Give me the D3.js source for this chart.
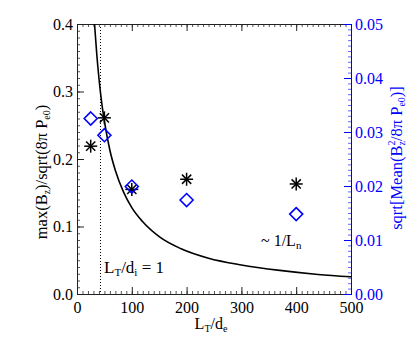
<!DOCTYPE html>
<html>
<head>
<meta charset="utf-8">
<script src="https://cdn.jsdelivr.net/npm/d3@7"></script>
<style>
  body { margin: 0; background: #fff; }
  text { font-family: "Liberation Serif", "DejaVu Serif", serif; }
</style>
</head>
<body>
<div id="container"></div>
<script>
// data
const lengths = [25, 50, 100, 200, 400];              // L_T/d_e
const maxBz = [0.219, 0.261, 0.155, 0.170, 0.163];    // left axis, asterisks
const meanBz = [0.0325, 0.0294, 0.0199, 0.0174, 0.0148]; // right axis, diamonds

// ~1/L_n guide curve
const curveX = [32, 36, 40, 45, 50, 60, 70, 85, 100, 120, 150, 190, 240, 300, 370, 440, 500];
const curveY = [0.400, 0.356, 0.320, 0.284, 0.256, 0.213, 0.183, 0.151, 0.128, 0.107, 0.085, 0.067, 0.053, 0.043, 0.035, 0.029, 0.0256];

const ionLine = 42.85; // L_T/d_i = 1

const xTicks = [0, 100, 200, 300, 400, 500];
const yTicks = [0, 0.1, 0.2, 0.3, 0.4];
const y2Ticks = [0, 0.01, 0.02, 0.03, 0.04, 0.05];

const width = 415, height = 344;
const plot = { left: 77, right: 351, top: 24, bottom: 294 };

const svg = d3.select('#container').append('svg')
    .attr('width', width)
    .attr('height', height);

const xScale = d3.scaleLinear().domain([0, 500]).range([plot.left, plot.right]);
const yScale = d3.scaleLinear().domain([0, 0.4]).range([plot.bottom, plot.top]);
const y2Scale = d3.scaleLinear().domain([0, 0.05]).range([plot.bottom, plot.top]);

const axisCol = '#222';
const blue = '#0000ff';

// bottom axis (ticks inward)
svg.append('g')
    .attr('transform', 'translate(0,' + plot.bottom + ')')
    .call(d3.axisBottom(xScale).tickValues(d3.range(0, 501, 10)).tickSize(-3).tickFormat(''))
    .call(g => g.selectAll('line').attr('stroke', '#555'));
svg.append('g')
    .attr('transform', 'translate(0,' + plot.bottom + ')')
    .call(d3.axisBottom(xScale).tickValues(xTicks).tickSize(-7).tickPadding(8).tickFormat(d3.format('d')))
    .call(g => g.select('.domain').attr('stroke', axisCol))
    .call(g => g.selectAll('line').attr('stroke', axisCol))
    .call(g => g.selectAll('text').attr('font-size', 16).attr('fill', '#000'));

// top axis
svg.append('g')
    .attr('transform', 'translate(0,' + plot.top + ')')
    .call(d3.axisTop(xScale).tickValues(d3.range(0, 501, 10)).tickSize(-3).tickFormat(''))
    .call(g => g.selectAll('line').attr('stroke', '#555'));
svg.append('g')
    .attr('transform', 'translate(0,' + plot.top + ')')
    .call(d3.axisTop(xScale).tickValues(xTicks).tickSize(-7).tickFormat(''))
    .call(g => g.select('.domain').attr('stroke', axisCol))
    .call(g => g.selectAll('line').attr('stroke', axisCol));

// left axis
svg.append('g')
    .attr('transform', 'translate(' + plot.left + ',0)')
    .call(d3.axisLeft(yScale).tickValues(d3.range(0, 0.4001, 0.01)).tickSize(-3).tickFormat(''))
    .call(g => g.selectAll('line').attr('stroke', '#555'));
svg.append('g')
    .attr('transform', 'translate(' + plot.left + ',0)')
    .call(d3.axisLeft(yScale).tickValues(yTicks).tickSize(-7).tickPadding(4).tickFormat(d3.format('.1f')))
    .call(g => g.select('.domain').attr('stroke', axisCol))
    .call(g => g.selectAll('line').attr('stroke', axisCol))
    .call(g => g.selectAll('text').attr('font-size', 16).attr('fill', '#000'));

// right axis (blue)
svg.append('g')
    .attr('transform', 'translate(' + plot.right + ',0)')
    .call(d3.axisRight(y2Scale).tickValues(d3.range(0, 0.05001, 0.001)).tickSize(-3).tickFormat(''))
    .call(g => g.selectAll('line').attr('stroke', blue).attr('stroke-opacity', 0.6));
svg.append('g')
    .attr('transform', 'translate(' + plot.right + ',0)')
    .call(d3.axisRight(y2Scale).tickValues(y2Ticks).tickSize(-7).tickPadding(4).tickFormat(d3.format('.2f')))
    .call(g => g.select('.domain').attr('stroke', blue))
    .call(g => g.selectAll('line').attr('stroke', blue))
    .call(g => g.selectAll('text').attr('font-size', 16).attr('fill', blue));

// dotted line L_T/d_i = 1
svg.append('line')
    .attr('x1', xScale(ionLine)).attr('x2', xScale(ionLine))
    .attr('y1', plot.top).attr('y2', plot.bottom)
    .attr('stroke', '#000')
    .attr('stroke-width', 1)
    .attr('stroke-dasharray', '1,2');

// ~1/L_n curve
const line = d3.line()
    .x(d => xScale(d[0]))
    .y(d => yScale(d[1]))
    .curve(d3.curveMonotoneX);
svg.append('path')
    .datum(curveX.map((x, i) => [x, curveY[i]]))
    .attr('d', line)
    .attr('fill', 'none')
    .attr('stroke', '#000')
    .attr('stroke-width', 1.6);

// asterisks
const star = svg.append('g');
lengths.forEach((x, i) => {
    const cx = xScale(x), cy = yScale(maxBz[i]), r = 6.5;
    const g = star.append('g').attr('transform', 'translate(' + cx + ',' + cy + ')');
    [0, 45, 90, 135].forEach(a => {
        const rad = a * Math.PI / 180;
        g.append('line')
            .attr('x1', -r * Math.cos(rad)).attr('y1', -r * Math.sin(rad))
            .attr('x2', r * Math.cos(rad)).attr('y2', r * Math.sin(rad))
            .attr('stroke', '#000').attr('stroke-width', 1.5);
    });
});

// diamonds
svg.append('g').selectAll('path')
    .data(lengths)
    .enter()
    .append('path')
    .attr('transform', (d, i) => 'translate(' + xScale(d) + ',' + y2Scale(meanBz[i]) + ')')
    .attr('d', 'M0,-6.5L6.5,0L0,6.5L-6.5,0Z')
    .attr('fill', 'none')
    .attr('stroke', blue)
    .attr('stroke-width', 1.6);

// annotations
const t1 = svg.append('text').attr('x', 104).attr('y', 273).attr('font-size', 17);
t1.append('tspan').text('L');
t1.append('tspan').text('T').attr('font-size', 11).attr('dy', 3);
t1.append('tspan').text('/d').attr('dy', -3);
t1.append('tspan').text('i').attr('font-size', 11).attr('dy', 3);
t1.append('tspan').text(' = 1').attr('dy', -3);

const t2 = svg.append('text').attr('x', 261).attr('y', 246).attr('font-size', 16);
t2.append('tspan').text('~ 1/L');
t2.append('tspan').text('n').attr('font-size', 11).attr('dy', 3);

// x label
const xl = svg.append('text').attr('x', 211).attr('y', 329).attr('font-size', 16).attr('text-anchor', 'middle');
xl.append('tspan').text('L');
xl.append('tspan').text('T').attr('font-size', 10).attr('dy', 3);
xl.append('tspan').text('/d').attr('dy', -3);
xl.append('tspan').text('e').attr('font-size', 10).attr('dy', 3);

// left y label
const yl = svg.append('text')
    .attr('transform', 'translate(47,172) rotate(-90)')
    .attr('text-anchor', 'middle')
    .attr('font-size', 16.5);
yl.append('tspan').text('max(B');
yl.append('tspan').text('z').attr('font-size', 10).attr('dy', 3);
yl.append('tspan').text(')/sqrt(8π P').attr('dy', -3);
yl.append('tspan').text('e0').attr('font-size', 10).attr('dy', 3);
yl.append('tspan').text(')').attr('dy', -3);

// right y label
const yr = svg.append('text')
    .attr('transform', 'translate(402,158) rotate(-90)')
    .attr('text-anchor', 'middle')
    .attr('font-size', 16.5)
    .attr('fill', blue);
yr.append('tspan').text('sqrt[Mean(B');
yr.append('tspan').text('2').attr('font-size', 10).attr('dy', -7);
yr.append('tspan').text('z').attr('font-size', 10).attr('dx', -5).attr('dy', 10);
yr.append('tspan').text('/8π P').attr('dy', -3);
yr.append('tspan').text('e0').attr('font-size', 10).attr('dy', 3);
yr.append('tspan').text(')]').attr('dy', -3);
</script>
</body>
</html>
